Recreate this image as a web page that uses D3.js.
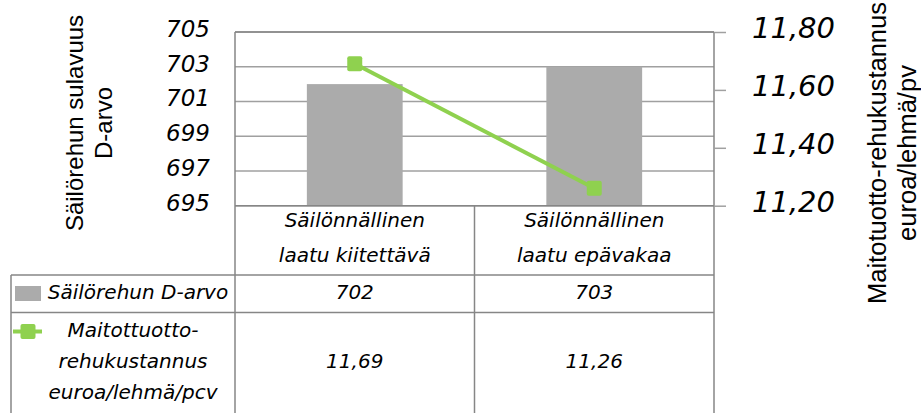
<!DOCTYPE html>
<html>
<head>
<meta charset="utf-8">
<script src="https://cdn.jsdelivr.net/npm/d3@7"></script>
<style>
  body { margin: 0; background: #fff; }
  svg { display: block; }
</style>
</head>
<body>
<svg id="chart"></svg>
<script>
const categories = [["Säilönnällinen", "laatu kiitettävä"], ["Säilönnällinen", "laatu epävakaa"]];
const dArvo = [702, 703];
const maitotuotto = [11.69, 11.26];
const leftTicks = [695, 697, 699, 701, 703, 705];
const rightTicks = [11.2, 11.4, 11.6, 11.8];
const seriesNames = ["Säilörehun D-arvo", ["Maitottuotto-", "rehukustannus", "euroa/lehmä/pcv"]];
const leftTitle = ["Säilörehun sulavuus", "D-arvo"];
const rightTitle = ["Maitotuotto-rehukustannus", "euroa/lehmä/pv"];

const width = 921;
const height = 413;
const plot = {left: 235, right: 714, top: 32, bottom: 205.7};
const table = {left: 11, row1: 275, row2: 312.5, bottom: 413};

const fi = d3.formatLocale({decimal: ",", thousands: "\u00a0", grouping: [3], currency: ["", "€"]});
const fmt2 = fi.format(".2f");

const tableFont = "'DejaVu Sans', Verdana, sans-serif";
const titleFont = "'Liberation Sans', Arial, sans-serif";
const lineColor = "#8fd14f";
const gridColor = "#a0a0a0";
const borderColor = "#868686";

const svg = d3.select("#chart")
    .attr("width", width)
    .attr("height", height)
    .attr("viewBox", [0, 0, width, height]);

const x = d3.scaleBand()
    .domain(d3.range(categories.length))
    .range([plot.left, plot.right]);

const yL = d3.scaleLinear()
    .domain([d3.min(leftTicks), d3.max(leftTicks)])
    .range([plot.bottom, plot.top]);

const yR = d3.scaleLinear()
    .domain([d3.min(rightTicks), d3.max(rightTicks)])
    .range([plot.bottom, plot.top]);

// gridlines
svg.append("g")
    .selectAll("line")
    .data(leftTicks)
    .join("line")
    .attr("x1", plot.left)
    .attr("x2", plot.right)
    .attr("y1", d => yL(d))
    .attr("y2", d => yL(d))
    .attr("stroke", gridColor)
    .attr("stroke-width", 1.5);

// bars
const bw = x.bandwidth() * 0.4;
svg.append("g")
    .selectAll("rect")
    .data(dArvo)
    .join("rect")
    .attr("x", (d, i) => x(i) + (x.bandwidth() - bw) / 2)
    .attr("width", bw)
    .attr("y", d => yL(d))
    .attr("height", d => yL(yL.domain()[0]) - yL(d))
    .attr("fill", "#ababab");

// table + frame lines
const lines = [
  [plot.left, plot.top, plot.right, plot.top],
  [plot.left, plot.top, plot.left, table.bottom],
  [plot.right, plot.top, plot.right, table.bottom],
  [plot.left, plot.bottom, plot.right, plot.bottom],
  [x(1), plot.bottom, x(1), table.bottom],
  [table.left, table.row1, plot.right, table.row1],
  [table.left, table.row2, plot.right, table.row2],
  [table.left, table.row1, table.left, table.bottom]
];
svg.append("g")
    .selectAll("line")
    .data(lines)
    .join("line")
    .attr("x1", d => d[0]).attr("y1", d => d[1])
    .attr("x2", d => d[2]).attr("y2", d => d[3])
    .attr("stroke", borderColor)
    .attr("stroke-width", 1.5);

// line series
const line = d3.line()
    .x((d, i) => x(i) + x.bandwidth() / 2)
    .y(d => yR(d));

svg.append("path")
    .datum(maitotuotto)
    .attr("fill", "none")
    .attr("stroke", lineColor)
    .attr("stroke-width", 4)
    .attr("d", line);

svg.append("g")
    .selectAll("rect")
    .data(maitotuotto)
    .join("rect")
    .attr("x", (d, i) => x(i) + x.bandwidth() / 2 - 7.5)
    .attr("y", d => yR(d) - 7.5)
    .attr("width", 15)
    .attr("height", 15)
    .attr("rx", 2)
    .attr("fill", lineColor);

// left axis
svg.append("g")
    .attr("transform", `translate(${plot.left},0)`)
    .call(d3.axisLeft(yL).tickValues(leftTicks).tickSize(0).tickPadding(25).tickFormat(d3.format("d")))
    .call(g => g.select(".domain").remove())
    .call(g => g.selectAll("text")
        .attr("dy", "0.19em")
        .attr("fill", "#000")
        .attr("font-family", tableFont)
        .attr("font-style", "italic")
        .attr("font-size", 23));

// right axis
svg.append("g")
    .attr("transform", `translate(${plot.right},0)`)
    .call(d3.axisRight(yR).tickValues(rightTicks).tickSize(12).tickPadding(26).tickFormat(fmt2))
    .call(g => g.select(".domain").remove())
    .call(g => g.selectAll("line").attr("stroke", gridColor).attr("stroke-width", 1.5))
    .call(g => g.selectAll("text")
        .attr("dy", "0.19em")
        .attr("fill", "#000")
        .attr("font-family", tableFont)
        .attr("font-style", "italic")
        .attr("font-size", 29));

// axis titles
svg.append("g")
    .selectAll("text")
    .data(leftTitle)
    .join("text")
    .attr("transform", (d, i) => `translate(${83 + i * 28.7},123) rotate(-90)`)
    .attr("text-anchor", "middle")
    .attr("font-family", titleFont)
    .attr("font-size", 24)
    .text(d => d);

svg.append("g")
    .selectAll("text")
    .data(rightTitle)
    .join("text")
    .attr("transform", (d, i) => `translate(${885.5 + i * 30.5},153) rotate(-90)`)
    .attr("text-anchor", "middle")
    .attr("font-family", titleFont)
    .attr("font-size", 25.5)
    .text(d => d);

// table text
const tt = svg.append("g")
    .attr("font-family", tableFont)
    .attr("font-style", "italic")
    .attr("font-size", 20)
    .attr("text-anchor", "middle");

categories.forEach((c, i) => {
  c.forEach((s, j) => {
    tt.append("text")
        .attr("x", x(i) + x.bandwidth() / 2)
        .attr("y", 227 + j * 35)
        .text(s);
  });
  tt.append("text")
      .attr("x", x(i) + x.bandwidth() / 2)
      .attr("y", 298.5)
      .text(dArvo[i]);
  tt.append("text")
      .attr("x", x(i) + x.bandwidth() / 2)
      .attr("y", 367.5)
      .text(fmt2(maitotuotto[i]));
});

// legend rows
svg.append("rect")
    .attr("x", 15).attr("y", 286)
    .attr("width", 26).attr("height", 15)
    .attr("fill", "#ababab");

tt.append("text")
    .attr("x", 138)
    .attr("y", 298.5)
    .text(seriesNames[0]);

svg.append("line")
    .attr("x1", 13).attr("x2", 42)
    .attr("y1", 331.5).attr("y2", 331.5)
    .attr("stroke", lineColor)
    .attr("stroke-width", 4);

svg.append("rect")
    .attr("x", 20.5).attr("y", 324)
    .attr("width", 15).attr("height", 15)
    .attr("rx", 2)
    .attr("fill", lineColor);

seriesNames[1].forEach((s, j) => {
  tt.append("text")
      .attr("x", 133)
      .attr("y", 337 + j * 31)
      .text(s);
});
</script>
</body>
</html>
